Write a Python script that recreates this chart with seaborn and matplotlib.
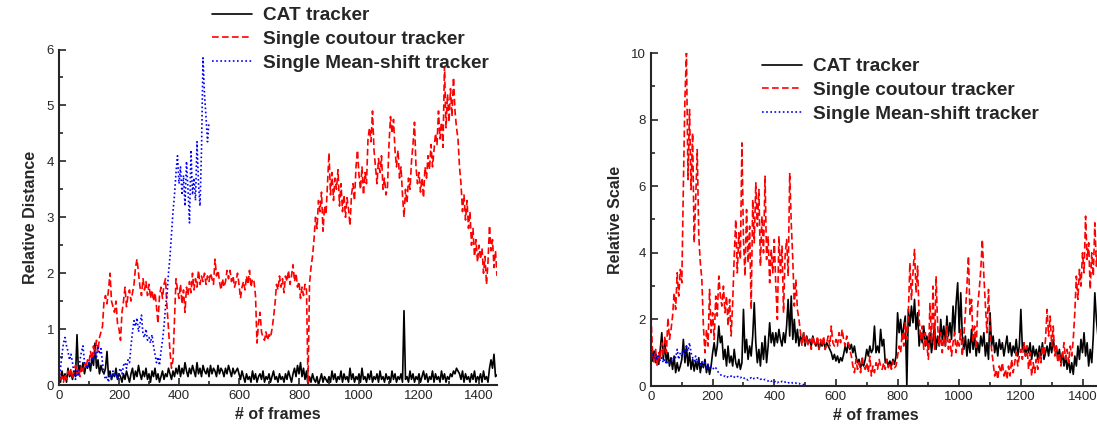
import numpy as np
import pandas as pd
import matplotlib
matplotlib.use("Agg")
import matplotlib.pyplot as plt
import seaborn as sns
from matplotlib.ticker import MultipleLocator

# --- data (one value every 5 frames) ---
STEP = 5

dist_cat = [
    0.15, 0.05, 0.25, 0.10, 0.20, 0.05, 0.30, 0.15, 0.20, 0.10, 0.25, 0.15, 0.90, 0.20, 0.35, 0.25, 0.40, 0.20, 0.35, 0.30,
    0.40, 0.25, 0.50, 0.35, 0.75, 0.30, 0.45, 0.20, 0.35, 0.25, 0.20, 0.30, 0.60, 0.15, 0.25, 0.10, 0.20, 0.15, 0.30, 0.10,
    0.20, 0.15, 0.05, 0.20, 0.10, 0.25, 0.15, 0.05, 0.20, 0.30, 0.10, 0.25, 0.15, 0.35, 0.20, 0.10, 0.25, 0.15, 0.30, 0.10,
    0.20, 0.05, 0.25, 0.15, 0.30, 0.10, 0.20, 0.05, 0.15, 0.25, 0.10, 0.20, 0.15, 0.30, 0.20, 0.10, 0.25, 0.15, 0.30, 0.20,
    0.35, 0.15, 0.30, 0.20, 0.40, 0.25, 0.15, 0.30, 0.20, 0.35, 0.25, 0.15, 0.40, 0.20, 0.30, 0.15, 0.35, 0.25, 0.20, 0.30,
    0.15, 0.35, 0.20, 0.30, 0.25, 0.15, 0.35, 0.20, 0.30, 0.25, 0.15, 0.30, 0.20, 0.35, 0.25, 0.15, 0.30, 0.20, 0.25, 0.30,
    0.20, 0.10, 0.25, 0.15, 0.05, 0.20, 0.10, 0.15, 0.05, 0.25, 0.10, 0.20, 0.05, 0.15, 0.20, 0.10, 0.25, 0.05, 0.15, 0.10,
    0.20, 0.05, 0.15, 0.25, 0.10, 0.15, 0.05, 0.20, 0.10, 0.15, 0.05, 0.20, 0.10, 0.25, 0.15, 0.05, 0.20, 0.30, 0.15, 0.35,
    0.20, 0.40, 0.15, 0.30, 0.10, 0.25, 0.00, 0.15, 0.05, 0.20, 0.10, 0.05, 0.15, 0.00, 0.10, 0.20, 0.05, 0.15, 0.10, 0.05,
    0.15, 0.05, 0.25, 0.10, 0.20, 0.05, 0.15, 0.10, 0.25, 0.05, 0.20, 0.10, 0.15, 0.05, 0.30, 0.10, 0.20, 0.05, 0.15, 0.10,
    0.20, 0.05, 0.30, 0.10, 0.15, 0.05, 0.20, 0.10, 0.25, 0.05, 0.15, 0.10, 0.20, 0.05, 0.25, 0.10, 0.15, 0.05, 0.20, 0.10,
    0.15, 0.05, 0.25, 0.10, 0.20, 0.05, 0.15, 0.10, 0.20, 0.05, 1.33, 0.10, 0.15, 0.05, 0.25, 0.10, 0.20, 0.05, 0.15, 0.10,
    0.20, 0.05, 0.15, 0.25, 0.10, 0.20, 0.05, 0.15, 0.10, 0.25, 0.05, 0.20, 0.10, 0.15, 0.05, 0.25, 0.10, 0.20, 0.05, 0.15,
    0.10, 0.20, 0.15, 0.25, 0.20, 0.30, 0.25, 0.20, 0.10, 0.25, 0.05, 0.20, 0.10, 0.15, 0.05, 0.20, 0.10, 0.25, 0.05, 0.15,
    0.10, 0.20, 0.05, 0.25, 0.10, 0.15, 0.05, 0.30, 0.45, 0.30, 0.55, 0.15, 0.18,
]

dist_contour = [
    0.30, 0.10, 0.15, 0.05, 0.20, 0.10, 0.25, 0.15, 0.30, 0.10, 0.25, 0.35, 0.20, 0.30, 0.15, 0.35, 0.25, 0.40, 0.30, 0.45,
    0.40, 0.60, 0.45, 0.70, 0.55, 0.80, 0.60, 0.85, 0.95, 1.05, 1.50, 1.60, 1.45, 1.70, 2.00, 1.50, 1.40, 1.30, 1.50, 1.10,
    1.00, 0.80, 1.30, 1.50, 1.75, 1.40, 1.60, 1.70, 1.50, 1.65, 1.80, 2.10, 2.25, 2.00, 1.75, 1.60, 1.90, 1.70, 1.85, 1.60,
    1.80, 1.55, 1.70, 1.50, 1.65, 1.40, 1.10, 1.60, 1.75, 1.55, 1.80, 1.90, 1.40, 1.00, 0.60, 0.30, 0.45, 1.20, 1.90, 1.70,
    1.55, 1.80, 1.45, 1.70, 1.30, 1.75, 1.60, 1.85, 1.65, 2.00, 1.70, 1.90, 1.75, 2.05, 1.80, 1.95, 1.85, 2.00, 1.80, 1.95,
    1.85, 2.00, 1.90, 1.80, 2.25, 1.95, 2.05, 1.85, 1.70, 1.90, 1.75, 1.85, 2.05, 1.90, 2.05, 1.85, 1.95, 1.75, 1.85, 2.00,
    1.80, 1.55, 1.75, 1.85, 1.70, 1.95, 1.80, 2.05, 1.75, 1.90, 1.85, 1.60, 0.75, 1.10, 1.30, 0.95, 0.85, 0.80, 0.95, 0.80,
    0.90, 0.85, 1.00, 1.20, 1.45, 1.80, 1.70, 1.95, 1.75, 1.90, 1.65, 1.95, 1.85, 2.05, 1.80, 1.95, 2.15, 1.85, 2.00, 1.75,
    1.85, 1.55, 1.75, 1.60, 1.80, 1.70, 0.00, 1.80, 2.10, 2.30, 2.60, 3.00, 2.80, 3.30, 3.10, 3.45, 2.75, 3.20, 3.05, 3.60,
    4.15, 3.40, 3.80, 3.30, 3.70, 3.50, 3.85, 3.20, 3.60, 3.10, 3.40, 3.00, 3.35, 3.15, 2.85, 3.40, 3.60, 3.30, 3.90, 4.20,
    3.75, 3.50, 3.90, 3.40, 3.80, 3.60, 4.40, 4.60, 4.35, 4.90, 4.20, 3.90, 3.60, 4.05, 3.80, 4.10, 3.50, 3.70, 3.40, 3.55,
    4.30, 4.80, 4.50, 4.75, 4.20, 3.90, 4.20, 3.70, 3.90, 3.40, 3.00, 3.50, 3.25, 3.70, 3.50, 4.00, 4.30, 4.70, 3.90, 3.60,
    3.80, 3.45, 3.70, 3.35, 3.90, 3.70, 4.10, 3.85, 4.30, 3.90, 4.20, 4.50, 4.30, 4.90, 4.40, 4.70, 4.25, 5.70, 4.60, 5.20,
    4.70, 5.30, 4.80, 5.50, 4.90, 4.60, 4.40, 3.90, 3.60, 3.10, 3.40, 2.95, 3.30, 2.80, 3.10, 2.50, 2.80, 2.30, 2.60, 2.20,
    2.50, 2.25, 2.45, 2.00, 2.30, 1.80, 2.20, 2.85, 2.40, 2.60, 2.10, 2.40, 1.95,
]

dist_meanshift = [
    0.10, 0.30, 0.55, 0.75, 0.85, 0.70, 0.60, 0.45, 0.55, 0.40, 0.20, 0.10, 0.25, 0.15, 0.45, 0.60, 0.70, 0.40, 0.35, 0.30,
    0.40, 0.35, 0.50, 0.45, 0.60, 0.50, 0.70, 0.55, 0.65, 0.40, 0.20, 0.10, 0.15, 0.05, 0.20, 0.10, 0.25, 0.15, 0.20, 0.10,
    0.25, 0.30, 0.20, 0.35, 0.40, 0.30, 0.45, 0.40, 0.70, 0.95, 1.15, 1.05, 1.20, 0.95, 1.10, 1.25, 0.90, 0.85, 1.00, 0.80,
    0.85, 0.75, 0.90, 0.70, 0.55, 0.40, 0.50, 0.35, 0.60, 0.80, 1.05, 1.40, 1.60, 2.00, 2.30, 2.70, 3.10, 3.40, 3.80, 4.10,
    3.60, 3.90, 3.40, 3.75, 3.20, 4.00, 3.50, 2.90, 4.20, 3.40, 3.70, 3.30, 4.35, 3.60, 3.20, 4.20, 5.85, 5.20, 4.80, 4.35,
    4.70,
]

scale_cat = [
    1.00, 0.75, 1.05, 0.70, 0.90, 0.65, 1.10, 1.60, 0.80, 1.30, 0.70, 1.00, 0.60, 0.85, 0.50, 0.90, 0.40, 0.70, 0.45, 0.60,
    0.80, 1.40, 0.70, 1.20, 0.60, 1.00, 0.50, 0.80, 0.45, 0.75, 0.50, 0.85, 0.40, 0.70, 0.55, 0.80, 0.40, 0.65, 0.35, 0.60,
    1.00, 1.30, 0.90, 1.20, 1.80, 1.30, 1.50, 0.80, 1.10, 0.60, 1.20, 0.70, 0.90, 0.60, 1.10, 0.70, 0.55, 0.80, 0.50, 0.70,
    2.30, 1.00, 1.40, 0.80, 1.20, 0.90, 1.50, 2.50, 1.30, 0.70, 1.10, 0.60, 1.30, 0.80, 1.50, 0.70, 1.20, 1.90, 1.30, 1.60,
    1.20, 1.60, 1.30, 1.70, 1.40, 1.20, 1.60, 1.30, 1.80, 2.60, 1.50, 2.70, 1.40, 2.00, 1.30, 1.70, 1.20, 1.50, 1.30, 1.60,
    1.20, 1.50, 1.30, 1.40, 1.20, 1.50, 1.30, 1.20, 1.40, 1.10, 1.30, 1.20, 1.40, 1.10, 1.30, 1.20, 1.10, 1.00, 0.80, 0.95,
    0.75, 0.90, 0.70, 0.85, 0.75, 0.95, 1.20, 1.00, 1.30, 1.10, 1.25, 1.00, 1.20, 0.90, 0.70, 0.80, 0.55, 0.70, 0.60, 0.80,
    1.10, 0.90, 1.20, 1.00, 1.10, 1.80, 1.00, 1.20, 1.00, 1.70, 1.20, 1.40, 0.70, 0.80, 0.60, 0.75, 0.60, 0.80, 0.65, 0.90,
    2.20, 1.60, 2.00, 1.40, 1.80, 2.10, 0.00, 2.30, 1.80, 2.40, 1.90, 2.60, 1.70, 2.20, 1.20, 1.60, 1.30, 1.80, 1.20, 1.50,
    1.10, 1.60, 1.00, 1.40, 1.80, 1.10, 1.50, 1.20, 2.00, 1.40, 1.80, 1.20, 2.10, 1.50, 1.90, 1.40, 2.40, 1.60, 2.50, 3.10,
    1.60, 2.80, 1.50, 1.10, 1.50, 0.90, 1.40, 1.00, 1.70, 1.10, 1.50, 0.90, 1.30, 1.00, 1.50, 1.20, 1.60, 0.90, 1.30, 0.80,
    2.20, 1.20, 1.50, 1.00, 1.30, 0.90, 1.40, 1.10, 1.30, 0.90, 1.20, 1.50, 1.00, 1.30, 0.90, 1.20, 1.00, 1.40, 0.90, 1.20,
    2.30, 1.10, 1.30, 0.90, 1.20, 1.00, 1.30, 0.80, 1.20, 0.90, 1.10, 0.80, 1.20, 0.90, 1.30, 0.80, 1.00, 1.20, 0.90, 1.30,
    1.00, 1.40, 1.10, 1.20, 0.80, 1.10, 0.70, 1.00, 0.60, 0.90, 0.50, 0.80, 0.40, 0.70, 0.35, 0.90, 0.60, 1.20, 0.80, 1.40,
    1.00, 1.60, 0.90, 1.30, 0.60, 1.10, 0.70, 1.50, 2.80, 2.00, 1.50,
]

scale_contour = [
    2.10, 1.00, 0.70, 1.10, 0.60, 1.00, 0.80, 1.30, 0.90, 1.50, 1.00, 2.05, 1.40, 1.70, 2.10, 2.80, 2.30, 3.40, 2.70, 3.50,
    3.10, 6.00, 8.60, 10.0, 6.20, 8.30, 5.90, 7.60, 4.30, 5.60, 7.10, 4.50, 3.70, 3.20, 1.80, 1.00, 1.70, 1.20, 2.90, 1.60,
    2.20, 1.40, 2.70, 2.10, 3.30, 2.70, 2.40, 3.00, 2.20, 2.70, 1.80, 2.60, 1.50, 2.50, 3.90, 5.00, 3.40, 4.60, 3.80, 7.30,
    4.40, 3.30, 5.30, 3.70, 4.80, 2.30, 5.60, 4.30, 6.10, 4.80, 5.90, 3.60, 5.10, 4.00, 6.30, 3.80, 4.50, 3.10, 4.10, 3.40,
    4.40, 3.00, 2.00, 4.50, 3.40, 4.20, 2.20, 3.90, 4.40, 3.30, 6.40, 4.90, 3.80, 2.40, 3.20, 2.30, 2.00, 1.60, 1.20, 1.60,
    1.30, 1.50, 1.20, 1.40, 1.10, 1.50, 1.30, 1.20, 1.50, 1.10, 1.40, 1.20, 1.50, 1.10, 1.30, 1.50, 1.20, 1.80, 1.30, 1.20,
    1.40, 1.20, 1.60, 1.30, 1.70, 1.40, 1.20, 1.50, 1.30, 1.10, 0.90, 0.60, 0.40, 0.80, 0.50, 0.70, 0.40, 0.90, 0.60, 0.50,
    0.70, 0.40, 0.90, 0.30, 0.60, 0.40, 0.70, 0.50, 0.80, 0.60, 0.50, 0.70, 0.50, 0.80, 0.55, 0.70, 0.50, 0.75, 0.55, 0.60,
    0.90, 1.20, 1.00, 1.60, 1.20, 1.90, 1.40, 2.20, 3.70, 2.60, 3.40, 4.10, 2.80, 3.60, 2.00, 1.40, 1.80, 1.10, 1.60, 1.20,
    0.80, 2.50, 1.30, 3.00, 1.10, 3.30, 1.80, 1.20, 1.60, 1.00, 1.50, 1.20, 1.80, 1.10, 1.40, 0.90, 1.30, 1.60, 1.00, 1.40,
    1.20, 1.70, 0.90, 1.50, 2.20, 3.00, 3.90, 2.10, 2.60, 1.30, 1.80, 1.10, 2.40, 2.90, 3.50, 4.40, 3.30, 2.40, 1.60, 2.90,
    1.60, 1.10, 0.70, 0.30, 0.50, 0.20, 0.60, 0.40, 0.70, 0.30, 0.50, 0.20, 0.60, 0.30, 0.80, 0.40, 0.70, 1.00, 0.60, 0.90,
    1.10, 0.80, 1.30, 0.90, 1.20, 0.50, 1.00, 0.30, 0.70, 0.40, 0.80, 0.50, 1.00, 0.70, 1.20, 0.90, 1.40, 2.30, 1.50, 2.10,
    1.20, 1.80, 0.90, 1.20, 0.70, 1.00, 0.60, 0.90, 1.30, 0.80, 1.10, 0.70, 1.20, 0.90, 1.40, 2.20, 3.30, 2.60, 3.50, 3.00,
    4.00, 3.40, 5.10, 3.80, 4.30, 2.90, 4.00, 3.30, 4.90, 3.60, 4.20,
]

scale_meanshift = [
    0.90, 1.00, 0.85, 0.95, 0.80, 0.90, 0.75, 0.85, 0.70, 0.80, 0.65, 0.75, 0.70, 0.80, 0.75, 0.90, 0.85, 1.10, 0.80, 1.00,
    0.90, 1.10, 0.95, 1.20, 1.05, 1.30, 1.00, 0.85, 0.75, 0.90, 0.70, 0.80, 0.65, 0.75, 0.60, 0.70, 0.55, 0.65, 0.50, 0.60,
    0.55, 0.50, 0.55, 0.45, 0.40, 0.35, 0.30, 0.28, 0.30, 0.25, 0.28, 0.26, 0.30, 0.25, 0.27, 0.24, 0.28, 0.30, 0.25, 0.27,
    0.22, 0.25, 0.20, 0.18, 0.22, 0.25, 0.20, 0.23, 0.21, 0.24, 0.25, 0.20, 0.22, 0.18, 0.20, 0.17, 0.15, 0.18, 0.14, 0.16,
    0.12, 0.15, 0.10, 0.13, 0.11, 0.14, 0.10, 0.12, 0.08, 0.10, 0.09, 0.12, 0.08, 0.07, 0.09, 0.06, 0.08, 0.05, 0.06, 0.04,
    0.03,
]

labels = ["CAT tracker", "Single coutour tracker", "Single Mean-shift tracker"]
colors = ["black", "#ff0000", "#0000ff"]
dashes = [(None, None), (4, 2), (1, 1.5)]
linewidths = [1.2, 1.2, 1.2]

sns.set_style("ticks")
plt.rcParams["font.family"] = ["Liberation Sans", "DejaVu Sans"]


def frames(vals):
    return np.arange(len(vals)) * STEP


def draw_panel(ax, series, ylabel, ymax, ymajor, yminor, legend_anchor):
    for vals, lab, col, ds, lw in zip(series, labels, colors, dashes, linewidths):
        df = pd.DataFrame({"frame": frames(vals), "val": vals})
        sns.lineplot(data=df, x="frame", y="val", ax=ax, color=col, lw=lw,
                     estimator=None, sort=False, label=lab)
        line = ax.get_lines()[-1]
        if ds[0] is not None:
            line.set_dashes(ds)
    ax.set_xlim(0, 1460)
    ax.set_ylim(0, ymax)
    ax.xaxis.set_major_locator(MultipleLocator(200))
    ax.xaxis.set_minor_locator(MultipleLocator(100))
    ax.yaxis.set_major_locator(MultipleLocator(ymajor))
    ax.yaxis.set_minor_locator(MultipleLocator(yminor))
    ax.tick_params(which="both", direction="in", width=1.2, labelsize=9.5)
    ax.tick_params(which="major", length=5)
    ax.tick_params(which="minor", length=3)
    for s in ["top", "right"]:
        ax.spines[s].set_visible(False)
    for s in ["left", "bottom"]:
        ax.spines[s].set_linewidth(1.5)
    ax.set_xlabel("# of frames", fontsize=11.5, fontweight="bold", labelpad=4)
    ax.set_ylabel(ylabel, fontsize=11.5, fontweight="bold", labelpad=6)
    ax.legend(loc="upper left", bbox_to_anchor=legend_anchor, bbox_transform=fig.transFigure,
              frameon=False, prop={"size": 13.7, "weight": "bold"}, handlelength=2.1,
              handletextpad=0.6, labelspacing=0.33, borderpad=0, borderaxespad=0)


fig = plt.figure(figsize=(10.97, 4.36), dpi=100)
W, H = 1097, 436
ax1 = fig.add_axes([59 / W, 1 - 385 / H, 438 / W, 335.5 / H])
ax2 = fig.add_axes([651 / W, 1 - 386 / H, 450 / W, 333 / H])

draw_panel(ax1, [dist_cat, dist_contour, dist_meanshift], "Relative Distance", 6, 1, 0.5,
           (212 / W, 1 - 7 / H))
draw_panel(ax2, [scale_cat, scale_contour, scale_meanshift], "Relative Scale", 10, 2, 1,
           (762 / W, 1 - 58 / H))

fig.savefig("out.png", dpi=100)
